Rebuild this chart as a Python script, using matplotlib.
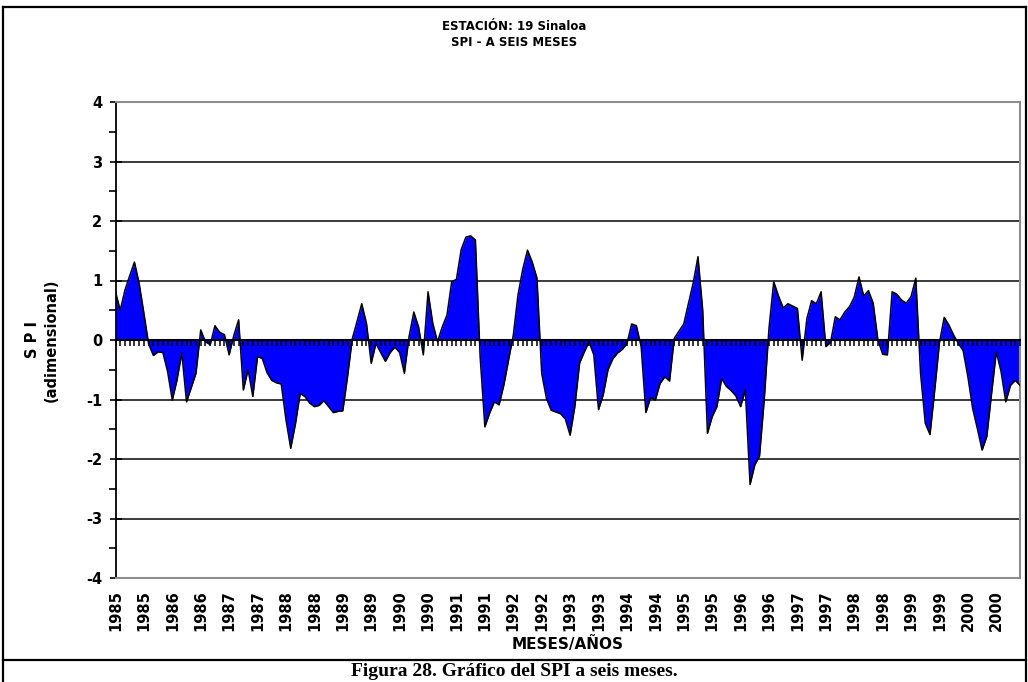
import matplotlib.pyplot as plt
from matplotlib.lines import Line2D

# SPI a seis meses, estacion 19 Sinaloa, mensual ene-1985 .. dic-2000
spi = [
    0.81, 0.50, 0.84, 1.08, 1.31, 0.95, 0.45, -0.07, -0.26, -0.20,
    -0.21, -0.53, -1.01, -0.67, -0.22, -1.04, -0.80, -0.56, 0.17, -0.03,
    -0.08, 0.24, 0.13, 0.09, -0.25, 0.08, 0.34, -0.84, -0.50, -0.95,
    -0.28, -0.31, -0.55, -0.68, -0.72, -0.74, -1.34, -1.82, -1.41, -0.90,
    -0.95, -1.06, -1.12, -1.10, -1.02, -1.12, -1.22, -1.20,
    -1.19, -0.62, 0.02, 0.31, 0.61, 0.28, -0.39, -0.06, -0.21, -0.36,
    -0.21, -0.12, -0.21, -0.56, 0.06, 0.47, 0.22, -0.25, 0.81, 0.28,
    -0.03, 0.22, 0.42, 0.98, 1.02, 1.52, 1.73, 1.75, 1.68, -0.28,
    -1.46, -1.23, -1.04, -1.09, -0.76, -0.34, 0.08, 0.76, 1.19, 1.51,
    1.31, 1.04, -0.56, -0.98, -1.18, -1.21, -1.24, -1.33,
    -1.60, -1.12, -0.39, -0.20, -0.03, -0.25, -1.17, -0.92, -0.50, -0.32,
    -0.22, -0.16, -0.06, 0.27, 0.24, -0.11, -1.22, -0.97, -1.01, -0.73,
    -0.62, -0.69, 0.03, 0.15, 0.27, 0.62, 0.96, 1.40, 0.50, -1.57,
    -1.29, -1.12, -0.65, -0.78, -0.85, -0.94, -1.12, -0.84, -2.43, -2.10,
    -1.95, -1.00, 0.20, 0.98, 0.74, 0.54, 0.61, 0.57,
    0.53, -0.34, 0.36, 0.66, 0.61, 0.81, -0.11, -0.04, 0.39, 0.34,
    0.47, 0.56, 0.72, 1.06, 0.74, 0.83, 0.62, 0.00, -0.24, -0.25,
    0.81, 0.77, 0.67, 0.62, 0.73, 1.04, -0.56, -1.40, -1.59, -0.84,
    -0.04, 0.38, 0.25, 0.08, -0.06, -0.18, -0.62, -1.15, -1.49, -1.85,
    -1.62, -0.90, -0.20, -0.53, -1.04, -0.76, -0.68, -0.76,
]

# one label every six months
tick_labels = [
    '1985', '1985', '1986', '1986', '1987', '1987', '1988', '1988',
    '1989', '1989', '1990', '1990', '1991', '1991', '1992', '1992',
    '1993', '1993', '1994', '1994', '1995', '1995', '1996', '1996',
    '1997', '1997', '1998', '1998', '1999', '1999', '2000', '2000',
]
y_ticks = [4, 3, 2, 1, 0, -1, -2, -3, -4]

plt.rcParams['font.family'] = ['DejaVu Sans']
plt.rcParams['font.weight'] = 'bold'
plt.rcParams['axes.unicode_minus'] = False

W, H = 1028, 682
fig = plt.figure(figsize=(W / 100, H / 100), dpi=100)
ax = fig.add_axes([115.5 / W, (H - 578) / H, (1020 - 115.5) / W, 476 / H])

months = list(range(len(spi)))
ax.fill_between(months, spi, 0, color='#0000FF', linewidth=0,
                interpolate=True, zorder=2)
ax.plot(months, spi, color='black', lw=1.1, zorder=3)

# horizontal gridlines
for v in y_ticks[1:-1]:
    if v != 0:
        ax.axhline(v, color='#3a3a3a', lw=1.4, zorder=1)

ax.set_xlim(0, len(spi) - 1)
ax.set_ylim(-4, 4)

ax.set_yticks(y_ticks)
ax.set_yticklabels([str(v) for v in y_ticks])
ax.set_yticks([v + 0.5 for v in y_ticks[1:]], minor=True)
ax.tick_params(axis='y', which='major', direction='inout', length=9,
               width=1.2, labelsize=10.5, pad=5)
ax.tick_params(axis='y', which='minor', direction='out', length=5, width=1.2)

ax.set_xticks(months[::6])
ax.set_xticklabels(tick_labels, rotation=90, fontsize=10.5, fontweight='bold')
ax.tick_params(axis='x', length=0, pad=9)

for side in ['top', 'right', 'bottom']:
    ax.spines[side].set_color('#8c8c8c')
    ax.spines[side].set_linewidth(1.5)
ax.spines['left'].set_color('black')
ax.spines['left'].set_linewidth(1.3)

# category axis crossing at zero, with a tick for every month
zero = ax.secondary_xaxis(0.5)
zero.set_xticks(months)
zero.tick_params(direction='in', length=4, width=1.1,
                 labeltop=False, labelbottom=False, color='black')
for s in zero.spines.values():
    s.set_color('black')
    s.set_linewidth(1.5)
zero.set_zorder(5)

# texts
fig.text(514 / W, 1 - 27 / H, 'ESTACIÓN: 19 Sinaloa', ha='center', va='center',
         fontsize=8.5, fontweight='bold')
fig.text(514 / W, 1 - 43 / H, 'SPI - A SEIS MESES', ha='center', va='center',
         fontsize=8.5, fontweight='bold')
fig.text(42 / W, 1 - 340 / H, 'S P I\n(adimensional)', rotation=90,
         ha='center', va='center', multialignment='center',
         fontsize=10.5, fontweight='bold', linespacing=1.3)
fig.text(568 / W, 1 - 644 / H, 'MESES/AÑOS', ha='center', va='center',
         fontsize=11, fontweight='bold')
fig.text(514 / W, 1 - 672 / H, 'Figura 28. Gráfico del SPI a seis meses.',
         ha='center', va='center', fontsize=14, fontweight='bold',
         family=['Liberation Serif', 'DejaVu Serif'])

# chart frame and caption separator
frame = dict(transform=fig.transFigure, color='black', lw=1.6)
fig.add_artist(Line2D([3 / W, 3 / W], [0, 1 - 7 / H], **frame))
fig.add_artist(Line2D([1026 / W, 1026 / W], [0, 1 - 7 / H], **frame))
fig.add_artist(Line2D([3 / W, 1026 / W], [1 - 7 / H, 1 - 7 / H], **frame))
fig.add_artist(Line2D([3 / W, 1026 / W], [1 - 660 / H, 1 - 660 / H], **frame))

fig.savefig('out.png', dpi=100)
